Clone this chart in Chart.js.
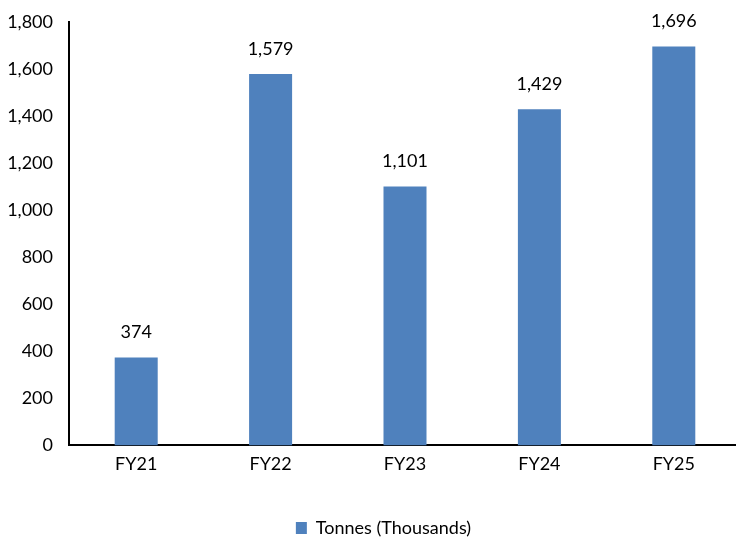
<!DOCTYPE html>
<html>
<head>
<meta charset="utf-8">
<script src="https://cdn.jsdelivr.net/npm/chart.js@4"></script>
<style>
  html, body { margin: 0; padding: 0; background: #fff; overflow: hidden; }
  #wrap { width: 742px; height: 542px; position: relative; }
</style>
</head>
<body>
<div id="wrap"><canvas id="c" width="742" height="542"></canvas></div>
<script>
const categories = ["FY21", "FY22", "FY23", "FY24", "FY25"];
const seriesName = "Tonnes (Thousands)";
const values = [374, 1579, 1101, 1429, 1696];
const yTicks = [0, 200, 400, 600, 800, 1000, 1200, 1400, 1600, 1800];

const FONT = "Lato, 'Liberation Sans', Arial, sans-serif";
const BLUE = "#4F81BD";

const labelPlugin = {
  id: "valueLabels",
  afterLayout(chart) {
    const lg = chart.legend;
    if (lg) { lg.left += 13; lg.right += 13; lg.top += 5; lg.bottom += 5; }
  },
  afterDatasetsDraw(chart) {
    const ctx = chart.ctx;
    const meta = chart.getDatasetMeta(0);
    ctx.save();
    ctx.font = "18px " + FONT;
    ctx.fillStyle = "#000";
    ctx.textAlign = "center";
    ctx.textBaseline = "alphabetic";
    meta.data.forEach((bar, i) => {
      ctx.fillText(values[i].toLocaleString("en-US"), bar.x, bar.y - 19);
    });
    ctx.restore();
  }
};

new Chart(document.getElementById("c"), {
  type: "bar",
  data: {
    labels: categories,
    datasets: [{
      label: seriesName,
      data: values,
      backgroundColor: BLUE,
      borderWidth: 0,
      barPercentage: 0.32,
      categoryPercentage: 1.0
    }]
  },
  options: {
    responsive: false,
    animation: false,
    devicePixelRatio: 1,
    layout: { padding: { top: 22, right: 1, left: 0, bottom: 0 } },
    plugins: {
      legend: {
        position: "bottom",
        labels: {
          font: { family: FONT, size: 18 },
          color: "#000",
          boxWidth: 11,
          boxHeight: 12,
          padding: 1
        }
      },
      tooltip: { enabled: false }
    },
    scales: {
      x: {
        afterFit(scale) { scale.height += 30; },
        grid: { display: false, drawTicks: false },
        border: { display: true, color: "#000", width: 2 },
        ticks: { font: { family: FONT, size: 18 }, color: "#000", padding: 8 }
      },
      y: {
        min: 0,
        max: 1800,
        afterFit(scale) { scale.width = 69; },
        afterBuildTicks(scale) { scale.ticks = yTicks.map(v => ({ value: v })); },
        grid: { display: false, drawOnChartArea: false, drawTicks: true, tickLength: 6, tickColor: "#000", tickWidth: 2 },
        border: { display: true, color: "#000", width: 2 },
        ticks: {
          font: { family: FONT, size: 18 },
          color: "#000",
          padding: 10,
          callback: v => v.toLocaleString("en-US")
        }
      }
    }
  },
  plugins: [labelPlugin]
});
</script>
</body>
</html>
